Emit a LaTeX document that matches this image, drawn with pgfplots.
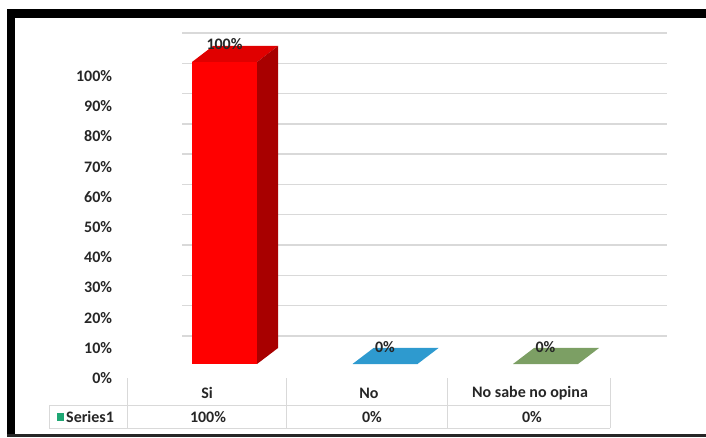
\documentclass[border=0pt]{standalone}
\usepackage{fontspec}
\setmainfont{Carlito}
\usepackage{pgfplots}
\pgfplotsset{compat=1.18}

\definecolor{barred}{HTML}{FF0000}
\definecolor{barredtop}{HTML}{E00000}
\definecolor{barredside}{HTML}{A80000}
\definecolor{barblue}{HTML}{2E9ACF}
\definecolor{bargreen}{HTML}{7C9F64}
\definecolor{keygreen}{HTML}{1FA774}
\definecolor{gridgray}{HTML}{D9D9D9}
\definecolor{txt}{HTML}{262626}

\newcommand{\lbl}{\bfseries\fontsize{16}{18}\selectfont\color{txt}}

\begin{document}
\begin{tikzpicture}
\useasboundingbox (0pt,0pt) rectangle (706pt,-438pt);

% back wall with gridlines
\begin{axis}[
    at={(182pt,-336pt)}, anchor=south west,
    scale only axis, width=485pt, height=303pt,
    xmin=0, xmax=1, ymin=0, ymax=100,
    xtick=\empty, ytick={0,10,...,100}, yticklabels={},
    ymajorgrids, grid style={gridgray, line width=1.4pt},
    axis line style={draw=none}, tick style={draw=none},
]
\end{axis}

% front plane: bars
\begin{axis}[
    at={(144.25pt,-364pt)}, anchor=south west,
    scale only axis, width=481.5pt, height=302pt,
    xmin=-0.5, xmax=2.5, ymin=0, ymax=100, clip=false,
    xtick=\empty, ytick={0,10,...,100},
    yticklabel={\pgfmathprintnumber{\tick}\%},
    /pgf/number format/assume math mode=true,
    yticklabel style={font=\lbl, anchor=east, inner sep=0pt, xshift=-32pt, yshift=-14pt},
    axis line style={draw=none}, tick style={draw=none},
    nodes near coords style={font=\lbl},
]
% Si
\addplot[ybar, bar width=65pt, bar shift=0pt, fill=barred, draw=none,
    nodes near coords={\pgfmathprintnumber{\pgfplotspointmeta}\%},
    every node near coord/.append style={font=\lbl, anchor=center, yshift=18pt}]
    coordinates {(0,100)};
\addplot[fill=barredtop, draw=none] coordinates {(-0.2025,100) (0.2025,100) (0.3335,105.3) (-0.0715,105.3)} --cycle;
\addplot[fill=barredside, draw=none] coordinates {(0.2025,0) (0.3335,5.3) (0.3335,105.3) (0.2025,100)} --cycle;
% No
\addplot[fill=barblue, draw=none] coordinates {(0.7975,0) (1.2025,0) (1.3335,5.3) (0.9285,5.3)} --cycle;
% No sabe no opina
\addplot[fill=bargreen, draw=none] coordinates {(1.7975,0) (2.2025,0) (2.3335,5.3) (1.9285,5.3)} --cycle;
% data labels for the zero bars
\addplot[ybar, bar width=65pt, bar shift=0pt, draw=none, fill=none,
    nodes near coords={\pgfmathprintnumber{\pgfplotspointmeta}\%},
    every node near coord/.append style={font=\lbl, anchor=center, yshift=17pt}]
    coordinates {(1,0) (2,0)};
\end{axis}

% data table
\begin{scope}[gridgray, line width=1pt]
  \foreach \x in {127,286,447,610} \draw (\x pt,-378pt) -- (\x pt,-428pt);
  \draw (49pt,-405pt) -- (610pt,-405pt);
  \draw (49pt,-428pt) -- (610pt,-428pt);
  \draw (49pt,-405pt) -- (49pt,-428pt);
\end{scope}
\node[font=\lbl] at (207pt,-393pt) {Si};
\node[font=\lbl] at (369pt,-393pt) {No};
\node[font=\lbl] at (530pt,-393pt) {No sabe no opina};
\node[font=\lbl] at (208pt,-417pt) {100\%};
\node[font=\lbl] at (372pt,-417pt) {0\%};
\node[font=\lbl] at (532pt,-417pt) {0\%};
\fill[keygreen] (57pt,-413pt) rectangle (64pt,-421pt);
\node[font=\lbl, anchor=west, inner sep=0pt] at (66pt,-417pt) {Series1};

% frame
\fill[black] (7pt,-9pt) rectangle (706pt,-18pt);
\fill[black] (7pt,-9pt) rectangle (15pt,-437pt);
\fill[black!85] (7pt,-434pt) rectangle (706pt,-437pt);
\end{tikzpicture}
\end{document}
